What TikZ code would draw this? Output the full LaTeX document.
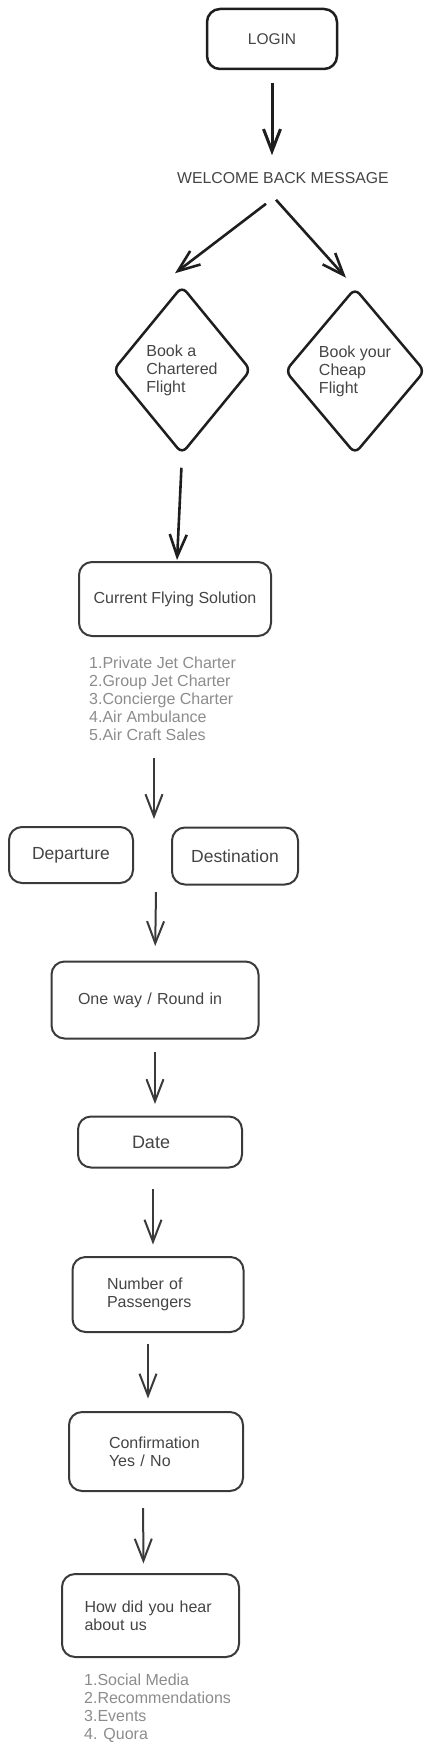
\documentclass[tikz,border=0pt]{standalone}
\usepackage{fontspec}
\setmainfont{Liberation Sans}
\usetikzlibrary{shapes.geometric}
\usetikzlibrary{arrows.meta}

\definecolor{ink}{HTML}{1E1E1E}
\definecolor{pen}{HTML}{3A3A3A}
\definecolor{txt}{HTML}{444444}
\definecolor{lighttxt}{HTML}{8C8C8C}

\tikzset{
    >={Straight Barb[length=22pt,width=17pt]},
    box/.style={rectangle,draw=pen,line width=2pt,rounded corners=13pt,text=txt,font=\fontsize{16}{18}\selectfont,inner sep=0pt},
    topbox/.style={box,draw=ink,line width=2.5pt},
    choice/.style={diamond,draw=ink,line width=2.5pt,rounded corners=7pt,text=txt,font=\fontsize{16}{18}\selectfont,align=left,inner sep=0pt},
    list/.style={anchor=north west,inner sep=0pt,align=left,text=lighttxt,font=\fontsize{16}{18}\selectfont},
    flow/.style={->,draw=pen,line width=2pt},
    bigflow/.style={->,draw=ink,line width=2.6pt}
}

\begin{document}
\begin{tikzpicture}[x=1pt,y=-1pt]
        \useasboundingbox (0,0) rectangle (436,1753);

        \node[topbox,minimum width=130pt,minimum height=60pt,font=\fontsize{15.5}{18}\selectfont] (login) at (272,39) {LOGIN};
        \node[inner sep=0pt,text=txt,font=\fontsize{15.8}{18}\selectfont] (welcome) at (283,178) {WELCOME BACK MESSAGE};
        \node[choice,minimum width=138pt,minimum height=168pt] (chartered) at (182,370) {Book a\\Chartered\\Flight};
        \node[choice,minimum width=140pt,minimum height=166pt] (cheap) at (355,371) {Book your\\Cheap\\Flight};

        \node[box,minimum width=192pt,minimum height=74pt] (cfs) at (175,599) {Current Flying Solution};
        \node[list] (cfslist) at (89,657) {1.Private Jet Charter\\2.Group Jet Charter\\3.Concierge Charter\\4.Air Ambulance\\5.Air Craft Sales};

        \coordinate (split) at (154,819);
        \coordinate (join) at (156,892);
        \node[box,minimum width=124pt,minimum height=56pt,font=\fontsize{17.5}{20}\selectfont] (departure) at (71,855) {Departure};
        \node[box,minimum width=126pt,minimum height=57pt,font=\fontsize{17.5}{20}\selectfont] (destination) at (235,856) {Destination};

        \node[box,minimum width=207pt,minimum height=77pt,text width=154pt,align=left] (oneway) at (155,1000) {One way / Round in};
        \node[box,minimum width=164pt,minimum height=51pt,text width=56pt,align=left,font=\fontsize{18}{20}\selectfont] (date) at (160,1142) {Date};
        \node[box,minimum width=171pt,minimum height=75pt,text width=102pt,align=left] (passengers) at (158,1294.5) {Number of\\Passengers};
        \node[box,minimum width=174pt,minimum height=79pt,text width=94pt,align=left] (confirm) at (156,1451.5) {Confirmation\\Yes / No};
        \node[box,minimum width=177pt,minimum height=83pt,text width=132pt,align=left] (heard) at (150.5,1615.5) {How did you hear\\about us};
        \node[list] (heardlist) at (84,1674) {1.Social Media\\2.Recommendations\\3.Events\\4. Quora};

        \draw[bigflow,line width=3pt,shorten <=13pt,shorten >=17pt] (login.south) -- (login.south |- welcome.north);
        \draw[bigflow] ([xshift=-17pt,yshift=-20pt]welcome.south) -- ([xshift=-7pt,yshift=11.5pt]chartered.north);
        \draw[bigflow] ([xshift=-7pt,yshift=-16pt]welcome.south) -- ([xshift=-9pt,yshift=9pt]cheap.north);
        \draw[bigflow,shorten <=12.5pt,shorten >=1pt] (chartered.south) -- ([xshift=2pt]cfs.north);

        \draw[flow,shorten <=17pt] (cfslist.south -| split) -- (split);
        \draw[flow,shorten >=14.5pt] (join) -- (oneway.north);
        \draw[flow,shorten <=12.5pt,shorten >=11.5pt] (oneway.south) -- (oneway.south |- date.north);
        \draw[flow,shorten <=20.5pt,shorten >=11.5pt] ([xshift=-7pt]date.south) -- ([xshift=-5pt]passengers.north);
        \draw[flow,shorten <=11pt,shorten >=12.5pt] ([xshift=-10pt]passengers.south) -- ([xshift=-8pt]confirm.north);
        \draw[flow,shorten <=16pt,shorten >=9.5pt] ([xshift=-13pt]confirm.south) -- ([xshift=-7pt]heard.north);

    \end{tikzpicture}
\end{document}
